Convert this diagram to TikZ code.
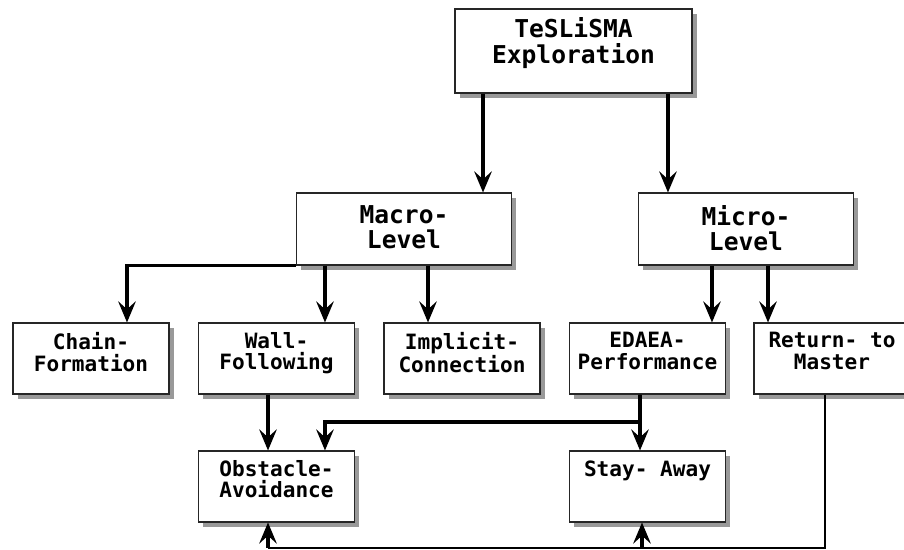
\documentclass[tikz,border=0pt]{standalone}
\usepackage{fontspec}
\setmainfont{DejaVu Sans Mono}
\usetikzlibrary{arrows.meta,shadows}
\begin{document}
\begin{tikzpicture}[x=0.02cm, y=-0.02cm,
  box/.style={draw=black!85, line width=0.6pt, fill=white,
    drop shadow={shadow xshift=2.8pt, shadow yshift=-2.8pt, opacity=0.8}},
  bigbox/.style={box, minimum width=4.3cm, minimum height=1.44cm},
  smallbox/.style={box, minimum width=3.12cm, minimum height=1.42cm},
  bigtxt/.style={anchor=north, align=center, inner sep=0pt, yshift=-7pt,
    font=\bfseries\fontsize{14}{14.5}\selectfont},
  smalltxt/.style={anchor=north, align=center, inner sep=0pt, yshift=-5.5pt,
    font=\bfseries\fontsize{12}{12.2}\selectfont},
  arr/.style={-{Stealth[length=12pt, width=10pt, inset=4.5pt]}, line width=1.8pt},
  ]
\useasboundingbox (0,0) rectangle (904,550);

\node[box, minimum width=4.74cm, minimum height=1.68cm, label={[bigtxt, yshift=2pt]north:{TeSLiSMA\\Exploration}}] (top) at (573.5,51) {};
\node[bigbox, label={[bigtxt]north:{Macro-\\Level}}] (macro) at (404,229) {};
\node[bigbox, label={[bigtxt]north:{Micro-\\Level}}] (micro) at (746,229) {};

\node[smallbox, label={[smalltxt]north:{Chain-\\Formation}}] (chain) at (91,358.5) {};
\node[smallbox, label={[smalltxt]north:{Wall-\\Following}}] (wall) at (276.5,358.5) {};
\node[smallbox, label={[smalltxt]north:{Implicit-\\Connection}}] (implicit) at (462,358.5) {};
\node[smallbox, label={[smalltxt]north:{EDAEA-\\Performance}}] (edaea) at (647.5,358.5) {};
\node[smallbox, label={[smalltxt]north:{Return- to\\Master}}] (return) at (832,358.5) {};

\node[smallbox, label={[smalltxt]north:{Obstacle-\\Avoidance}}] (obstacle) at (276.5,486.5) {};
\node[smallbox, label={[smalltxt]north:{Stay- Away}}] (stay) at (647.5,486.5) {};

\coordinate (split) at (640,422);
\coordinate (loop) at (268,548);

% top level
\draw[arr] ([xshift=-1.81cm]top.south) -- ([xshift=-1.81cm]top.south |- macro.north);
\draw[arr] ([xshift=1.89cm]top.south) -- ([xshift=1.89cm]top.south |- micro.north);

% macro level
\draw[arr] (macro.south west) -| ([xshift=0.72cm]chain.north);
\draw[arr] ([xshift=0.97cm]wall.north |- macro.south) -- ([xshift=0.97cm]wall.north);
\draw[arr] ([xshift=-0.68cm]implicit.north |- macro.south) -- ([xshift=-0.68cm]implicit.north);

% micro level
\draw[arr] ([xshift=1.29cm]edaea.north |- micro.south) -- ([xshift=1.29cm]edaea.north);
\draw[arr] ([xshift=-1.28cm]return.north |- micro.south) -- ([xshift=-1.28cm]return.north);

% behaviours
\draw[arr] ([xshift=-0.17cm]wall.south) -- ([xshift=-0.17cm]wall.south |- obstacle.north);
\draw[arr] ([xshift=-0.15cm]edaea.south) -- ([xshift=-0.15cm]edaea.south |- stay.north);
\draw[line width=1.8pt] ([xshift=-0.15cm]edaea.south) -- (split);
\draw[arr] (split) -| ([xshift=0.97cm]obstacle.north);

\draw[line width=1.3pt] ([xshift=-0.14cm]return.south) |- (loop);
\draw[arr] (loop) -- (loop |- obstacle.south);
\draw[arr] ([xshift=-0.11cm]stay.south |- loop) -- ([xshift=-0.11cm]stay.south);
\end{tikzpicture}
\end{document}
